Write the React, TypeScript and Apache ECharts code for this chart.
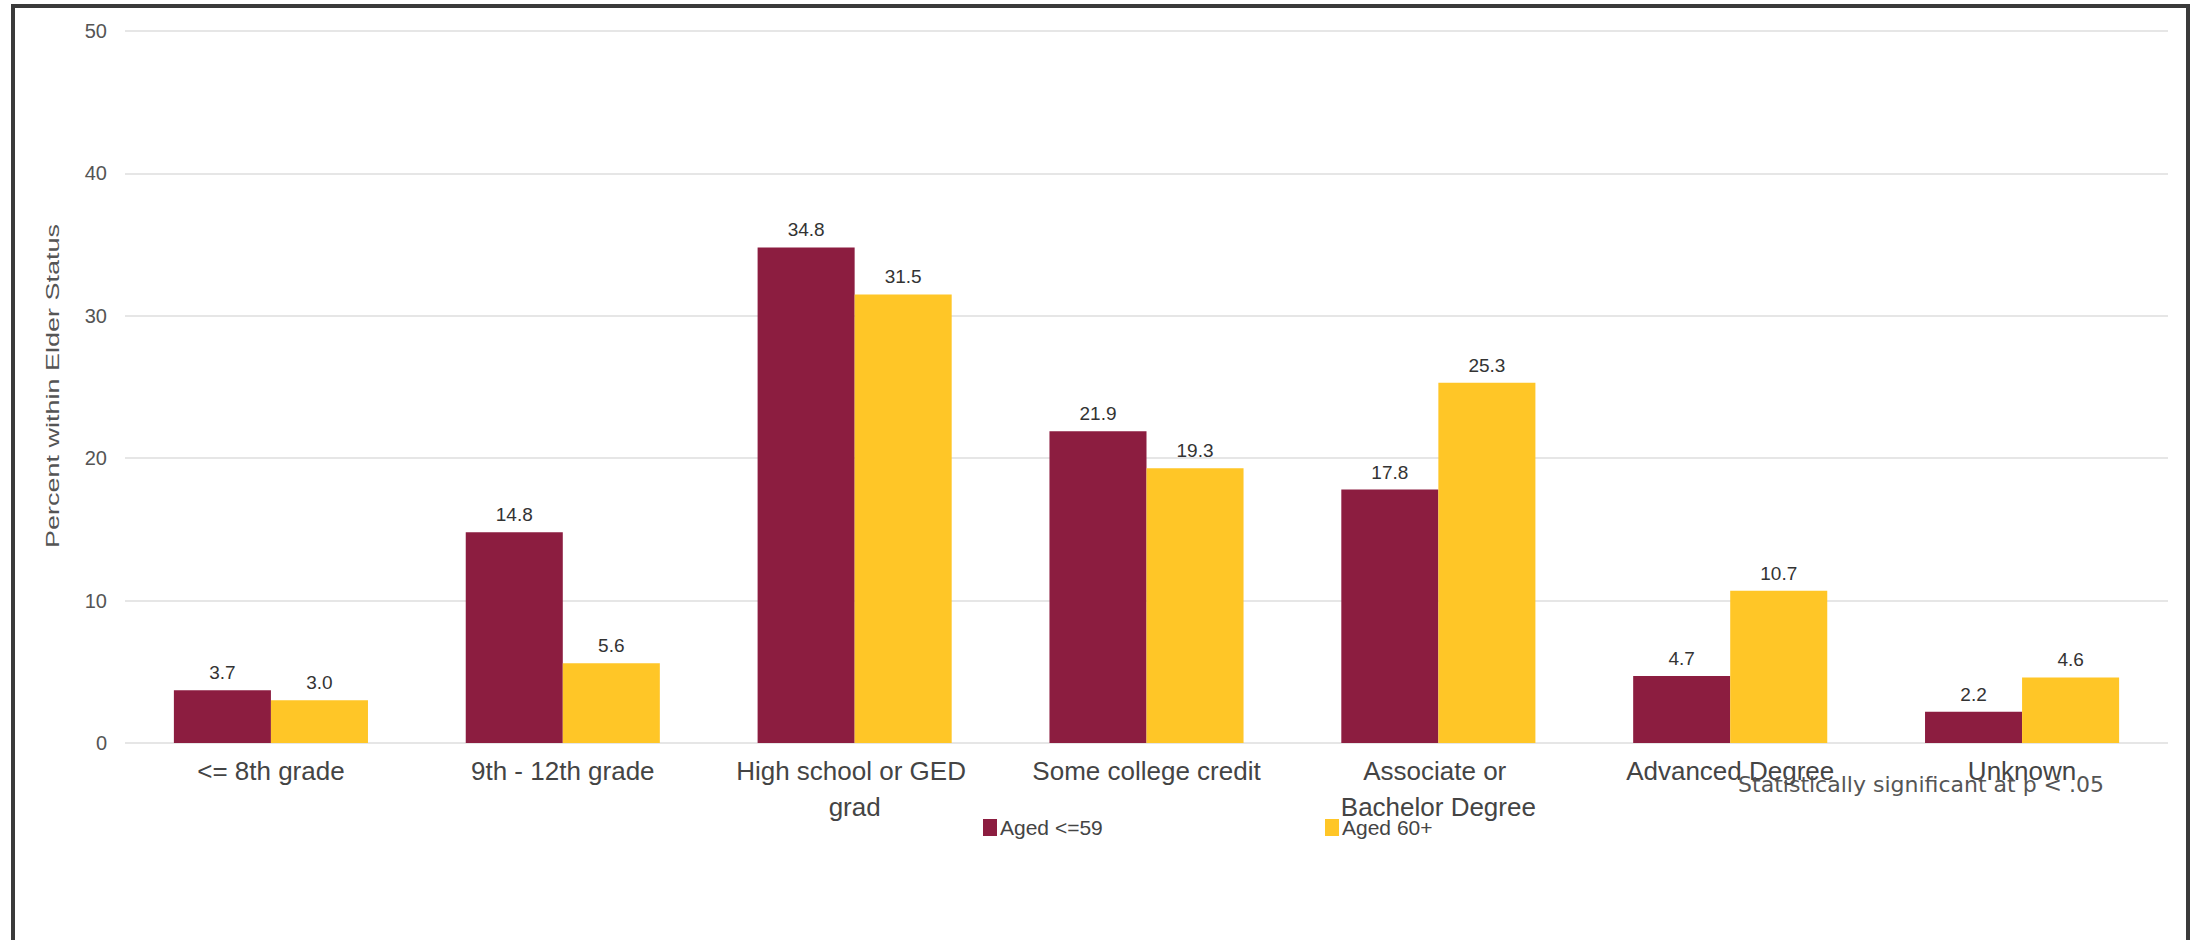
import React, { useEffect, useRef } from "react";
import * as echarts from "echarts";

const categories = [
  "<= 8th grade",
  "9th - 12th grade",
  "High school or GED grad",
  "Some college credit",
  "Associate or Bachelor Degree",
  "Advanced Degree",
  "Unknown",
];
const seriesNames = ["Aged <=59", "Aged 60+"];
const agedUnder60 = [3.7, 14.8, 34.8, 21.9, 17.8, 4.7, 2.2];
const aged60Plus = [3.0, 5.6, 31.5, 19.3, 25.3, 10.7, 4.6];
const yTicks = { min: 0, max: 50, interval: 10 };
const yTitle = "Percent within Elder Status";
const footnote = "Statistically significant at p < .05";

const MAROON = "#8C1D40";
const GOLD = "#FFC627";
const FONT = "Liberation Sans, Arial, sans-serif";

export default function App() {
  const ref = useRef<HTMLDivElement>(null);
  useEffect(() => {
    if (!ref.current) return;
    const chart = echarts.init(ref.current, undefined, { renderer: "svg" });
    const labelStyle = {
      show: true,
      position: "top" as const,
      distance: 8,
      color: "#333",
      fontSize: 19,
      fontFamily: FONT,
      formatter: (p: any) => Number(p.value).toFixed(1),
    };
    chart.setOption({
      animation: false,
      backgroundColor: "#ffffff",
      textStyle: { fontFamily: FONT },
      grid: { left: 125, right: 25, top: 31, bottom: 197, containLabel: false },
      legend: [
        {
          data: [seriesNames[0]],
          left: 978,
          top: 812,
          itemWidth: 14,
          itemHeight: 17,
          icon: "rect",
          textStyle: { color: "#444", fontSize: 21, padding: [0, 0, 0, -2] },
        },
        {
          data: [seriesNames[1]],
          left: 1320,
          top: 812,
          itemWidth: 14,
          itemHeight: 17,
          icon: "rect",
          textStyle: { color: "#444", fontSize: 21, padding: [0, 0, 0, -2] },
        },
      ],
      xAxis: {
        type: "category",
        data: categories,
        axisLine: { show: false },
        axisTick: { show: false },
        axisLabel: {
          color: "#444",
          fontSize: 26,
          lineHeight: 36,
          margin: 10,
          interval: 0,
          width: 240,
          overflow: "break",
        },
      },
      yAxis: {
        type: "value",
        min: yTicks.min,
        max: yTicks.max,
        interval: yTicks.interval,
        axisLine: { show: false },
        axisTick: { show: false },
        axisLabel: { color: "#555", fontSize: 20, margin: 18 },
        splitLine: { lineStyle: { color: "#e6e6e6", width: 2 } },
      },
      series: [
        {
          name: seriesNames[0],
          type: "bar",
          data: agedUnder60,
          itemStyle: { color: MAROON },
          barGap: "0%",
          barCategoryGap: "33.5%",
          label: labelStyle,
        },
        {
          name: seriesNames[1],
          type: "bar",
          data: aged60Plus,
          itemStyle: { color: GOLD },
          label: labelStyle,
        },
      ],
      graphic: [
        {
          type: "text",
          x: 52,
          y: 386,
          rotation: Math.PI / 2,
          scaleX: 1.42,
          scaleY: 1,
          style: {
            text: yTitle,
            fill: "#555",
            font: "19px 'Liberation Sans', Arial, sans-serif",
            textAlign: "center",
            textVerticalAlign: "middle",
          },
          z: 100,
        },
        {
          type: "text",
          right: 89,
          top: 773,
          style: {
            text: footnote,
            fill: "#555",
            font: "22px 'DejaVu Sans'",
          },
          z: 100,
        },
        {
          type: "polyline",
          shape: { points: [[13, 940], [13, 6], [2188, 6], [2188, 940]] },
          style: { stroke: "#3a3a3a", lineWidth: 4, fill: "none" },
          z: 100,
        },
      ],
    });
    return () => chart.dispose();
  }, []);
  return (
    <div
      ref={ref}
      style={{ position: "fixed", left: 0, top: 0, width: 2193, height: 940 }}
    />
  );
}
